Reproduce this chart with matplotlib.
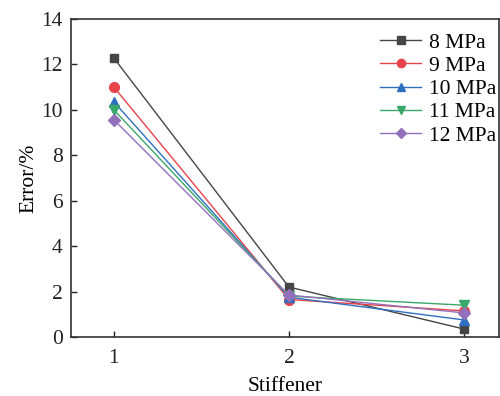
import matplotlib
matplotlib.use("Agg")
import matplotlib.pyplot as plt

stiffener = [1, 2, 3]
series_labels = ["8 MPa", "9 MPa", "10 MPa", "11 MPa", "12 MPa"]
err_8 = [12.28, 2.2, 0.35]
err_9 = [11.0, 1.65, 1.15]
err_10 = [10.35, 1.75, 0.75]
err_11 = [10.0, 1.8, 1.4]
err_12 = [9.56, 1.85, 1.06]
yticks = [0, 2, 4, 6, 8, 10, 12, 14]
xticks = [1, 2, 3]

colors = ["#454545", "#e8434a", "#2f6fc0", "#3aa86b", "#9370bb"]
markers = ["s", "o", "^", "v", "D"]
msizes = [6, 7, 7, 7, 6]

plt.rcParams['font.family'] = ['Liberation Serif', 'DejaVu Serif']

fig = plt.figure(figsize=(5.0, 3.96), dpi=100)
ax = fig.add_axes([0.142, 0.149, 0.856, 0.803])

for vals, lab, c, m, ms in zip([err_8, err_9, err_10, err_11, err_12], series_labels, colors, markers, msizes):
    ax.plot(stiffener, vals, color=c, marker=m, markersize=ms, linewidth=1.0, label=lab)

ax.set_xlim(0.755, 3.2)
ax.set_ylim(0, 14)
ax.set_xticks(xticks)
ax.set_yticks(yticks)
ax.tick_params(direction='in', labelsize=15.5, length=4, width=1, top=False, right=False,
               colors='#222222')
ax.tick_params(axis='x', pad=9)
ax.tick_params(axis='y', pad=6)
for s in ax.spines.values():
    s.set_linewidth(1.2)
    s.set_color('#333333')
ax.set_xlabel("Stiffener", fontsize=15.5, labelpad=6)
ax.set_ylabel("Error/%", fontsize=15.5, labelpad=2)

ax.legend(loc='upper right', bbox_to_anchor=(1.028, 1.005), frameon=False, fontsize=15.5,
          handlelength=1.9, markerscale=0.85,
          handletextpad=0.35, labelspacing=0.15, borderaxespad=0.3)

fig.savefig("out.png", dpi=100)
